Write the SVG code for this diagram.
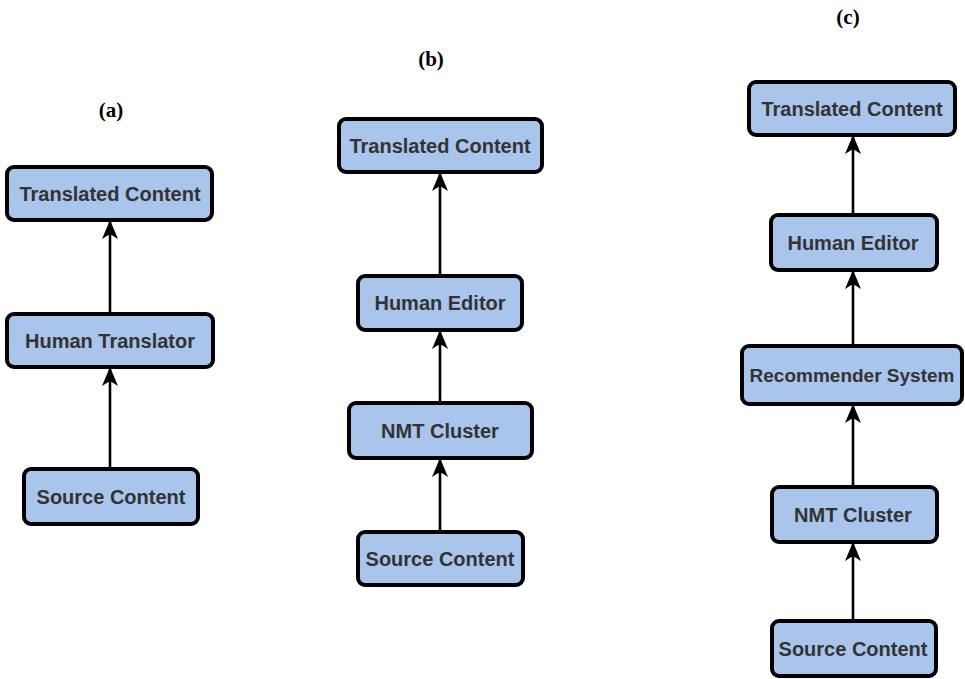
<svg xmlns="http://www.w3.org/2000/svg" width="965" height="679" viewBox="0 0 965 679">
<style>
.node rect{fill:#a9c5ec;stroke:#000;stroke-width:4}
.node text{font-family:"Liberation Sans","DejaVu Sans",sans-serif;font-weight:bold;font-size:20px;fill:#333;text-anchor:middle;dominant-baseline:central}
.lbl{font-family:"Liberation Serif","Times New Roman",serif;font-weight:bold;font-size:21px;fill:#000;text-anchor:middle}
.conn line{stroke:#000;stroke-width:2.6;marker-end:url(#ah)}
</style>
<defs>
<marker id="ah" markerWidth="19" markerHeight="16" refX="18" refY="8" orient="auto" markerUnits="userSpaceOnUse" viewBox="0 0 19 16">
<path d="M0,0 L19,8 L0,16 L5,8 Z" fill="#000"/>
</marker>
</defs>
<rect width="965" height="679" fill="#fff"/>
<text class="lbl" x="111" y="117">(a)</text>
<text class="lbl" x="431" y="66">(b)</text>
<text class="lbl" x="848" y="24">(c)</text>
<g class="conn">
<line x1="110" y1="314" x2="110" y2="221"/>
<line x1="110" y1="469" x2="110" y2="368"/>
<line x1="440" y1="276" x2="440" y2="173"/>
<line x1="440" y1="403" x2="440" y2="331"/>
<line x1="440" y1="532" x2="440" y2="459"/>
<line x1="853" y1="215" x2="853" y2="136"/>
<line x1="853" y1="346" x2="853" y2="271"/>
<line x1="853" y1="487" x2="853" y2="405"/>
<line x1="853" y1="621" x2="853" y2="543"/>
</g>
<g id="a-translated" class="node"><rect x="7" y="167" width="205" height="53" rx="7"/><text x="110" y="194">Translated Content</text></g>
<g id="a-human" class="node"><rect x="7" y="314" width="206" height="53" rx="7"/><text x="110" y="341">Human Translator</text></g>
<g id="a-source" class="node"><rect x="24" y="469" width="174" height="55" rx="7"/><text x="111" y="497">Source Content</text></g>
<g id="b-translated" class="node"><rect x="339" y="119" width="203" height="53" rx="7"/><text x="440" y="146">Translated Content</text></g>
<g id="b-editor" class="node"><rect x="358" y="276" width="164" height="54" rx="7"/><text x="440" y="303">Human Editor</text></g>
<g id="b-nmt" class="node"><rect x="349" y="403" width="183" height="55" rx="7"/><text x="440" y="431">NMT Cluster</text></g>
<g id="b-source" class="node"><rect x="358" y="532" width="165" height="53" rx="7"/><text x="440" y="559">Source Content</text></g>
<g id="c-translated" class="node"><rect x="749" y="82" width="206" height="53" rx="7"/><text x="852" y="109">Translated Content</text></g>
<g id="c-editor" class="node"><rect x="771" y="215" width="166" height="55" rx="7"/><text x="853" y="243">Human Editor</text></g>
<g id="c-recommender" class="node"><rect x="742" y="346" width="220" height="58" rx="7"/><text x="852" y="375" style="font-size:19px">Recommender System</text></g>
<g id="c-nmt" class="node"><rect x="772" y="487" width="165" height="55" rx="7"/><text x="853" y="515">NMT Cluster</text></g>
<g id="c-source" class="node"><rect x="772" y="621" width="164" height="55" rx="7"/><text x="853" y="649">Source Content</text></g>
</svg>
